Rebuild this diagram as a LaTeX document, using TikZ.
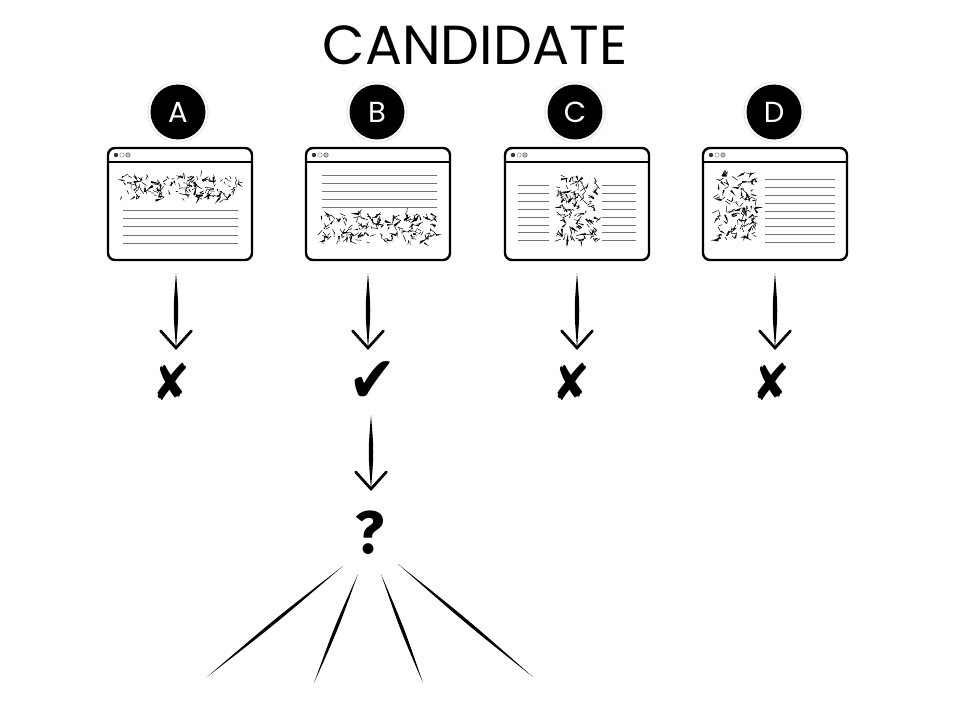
\documentclass[tikz,border=0pt]{standalone}
\usepackage{fontspec}
\usepackage{graphicx}
\setmainfont{Poppins}
\newfontfamily\markfont{DejaVu Sans}
\newfontfamily\qfont{Fira Sans}
\usetikzlibrary{calc}

% tapered brush stroke between two named points (#3 = bulge)
\newcommand\brushline[3]{%
  \fill (#1) .. controls ($(#1)!0.5!(#2)!#3!90:(#2)$) .. (#2)
             .. controls ($(#1)!0.5!(#2)!#3!-90:(#2)$) .. (#1) -- cycle;}

% hand-drawn arrow: brush shaft plus an open V head
\newcommand\brusharrow[2]{%
  \brushline{#1}{#2}{3pt}
  \draw[line width=2.7pt, line cap=round, line join=miter]
    ($(#2)!23pt!42:(#1)$) -- (#2) -- ($(#2)!23pt!-42:(#1)$);}

% random ink texture inside a box
\newcommand\scribble[5]{%
  \foreach \k in {1,...,#5}{
    \pgfmathsetmacro\px{#1+rnd*(#3-#1)}
    \pgfmathsetmacro\py{#2+rnd*(#4-#2)}
    \pgfmathsetmacro\pa{rnd*360}
    \pgfmathsetmacro\pl{3+rnd*5}
    \fill (\px,\py) -- ++(\pa:\pl) -- ++(\pa+164:\pl) -- cycle;
    \pgfmathsetmacro\qx{#1+rnd*(#3-#1)}
    \pgfmathsetmacro\qy{#2+rnd*(#4-#2)}
    \pgfmathsetmacro\qa{rnd*360}
    \pgfmathsetmacro\ql{3+rnd*4}
    \draw[line width=0.5pt] (\qx,\qy) -- ++(\qa:\ql);
  }}

% browser window frame: name, left x, top y
\newcommand\browser[3]{%
  \node[browserbox] (#1) at ({#2+72},{#3+56}) {};
  \draw[line width=2pt] (#2,{#3+14}) -- ({#2+144},{#3+14});
  \fill[black!80] ({#2+8},{#3+7}) circle (2.2pt);
  \draw[black!40, line width=0.6pt] ({#2+14},{#3+7}) circle (2.2pt);
  \draw[black!55, fill=black!25, line width=0.6pt] ({#2+20},{#3+7}) circle (2.2pt);}

\begin{document}
\begin{tikzpicture}[x=1pt, y=-1pt,
  browserbox/.style={draw, line width=2.4pt, rounded corners=7pt, fill=white,
    minimum width=144pt, minimum height=112pt, inner sep=0pt},
  badge/.style={circle, fill=black, minimum size=55pt, inner sep=0pt,
    text=white, font=\fontsize{29}{29}\selectfont},
  halo/.style={black!12, line width=0.8pt},
  textline/.style={line width=1pt, black!55},
  markstyle/.style={font=\markfont\fontsize{36}{36}\selectfont, inner sep=0pt}
]
\useasboundingbox (0,0) rectangle (959,704);
\pgfmathsetseed{11}

% title
\node[font=\fontsize{55}{55}\selectfont, inner sep=0pt] (title) at (475,45) {CANDIDATE};

% option badges
\foreach \n/\x in {A/178, B/377, C/575, D/774}{
  \node[badge] (lbl\n) at (\x,112) {\n};
  \draw[halo] (lbl\n) circle (30pt);
}

% window A: image strip on top, text below
\browser{winA}{108}{148}
\scribble{122}{176}{240}{200}{75}
\foreach \yy in {210.5,218.5,226.5,235,243}
  \draw[textline] (123,\yy) -- (238,\yy);

% window B: text on top, image strip below
\browser{winB}{306}{148}
\foreach \yy in {175,183,191,199,207}
  \draw[textline] (322,\yy) -- (437,\yy);
\scribble{321}{213}{437}{243}{90}

% window C: image column in the middle
\browser{winC}{505}{148}
\scribble{557}{175}{597}{242}{70}
\foreach \yy in {185,193,201,209,217,225,232,240}{
  \draw[textline] (518,\yy) -- (549,\yy);
  \draw[textline] (602,\yy) -- (636,\yy);
}

% window D: image column on the left
\browser{winD}{703}{148}
\scribble{717}{173}{757}{243}{72}
\foreach \yy in {179,187,195,203,211,218,226,234,242}
  \draw[textline] (765,\yy) -- (835,\yy);

% verdicts
\node[markstyle] (markA) at (171,382) {\scalebox{1.25}[1.4]{✘}};
\node[markstyle] (markB) at (373,382) {\scalebox{1.6}[1.8]{✔}};
\node[markstyle] (markC) at (571,382) {\scalebox{1.25}[1.4]{✘}};
\node[markstyle] (markD) at (771,382) {\scalebox{1.25}[1.4]{✘}};

% arrows from each window to its verdict
\coordinate (sA) at (176,273); \coordinate (tA) at (176,348);
\coordinate (sB) at (368,273); \coordinate (tB) at (368,348);
\coordinate (sC) at (577,273); \coordinate (tC) at (577,348);
\coordinate (sD) at (775,273); \coordinate (tD) at (775,348);
\brusharrow{sA}{tA}
\brusharrow{sB}{tB}
\brusharrow{sC}{tC}
\brusharrow{sD}{tD}

% follow-up question
\node[font=\qfont\bfseries\fontsize{60}{60}\selectfont, inner sep=0pt] (q) at (370,533) {?};
\coordinate (sQ) at (371,415); \coordinate (tQ) at (371,489);
\brusharrow{sQ}{tQ}

% open branches below the question
\coordinate (f1a) at (343,566); \coordinate (f1b) at (207,677);
\coordinate (f2a) at (358,574); \coordinate (f2b) at (314,683);
\coordinate (f3a) at (381,574); \coordinate (f3b) at (423,683);
\coordinate (f4a) at (398,564); \coordinate (f4b) at (533,677);
\brushline{f1a}{f1b}{2.2pt}
\brushline{f2a}{f2b}{2.2pt}
\brushline{f3a}{f3b}{2.2pt}
\brushline{f4a}{f4b}{2.2pt}
\end{tikzpicture}
\end{document}
